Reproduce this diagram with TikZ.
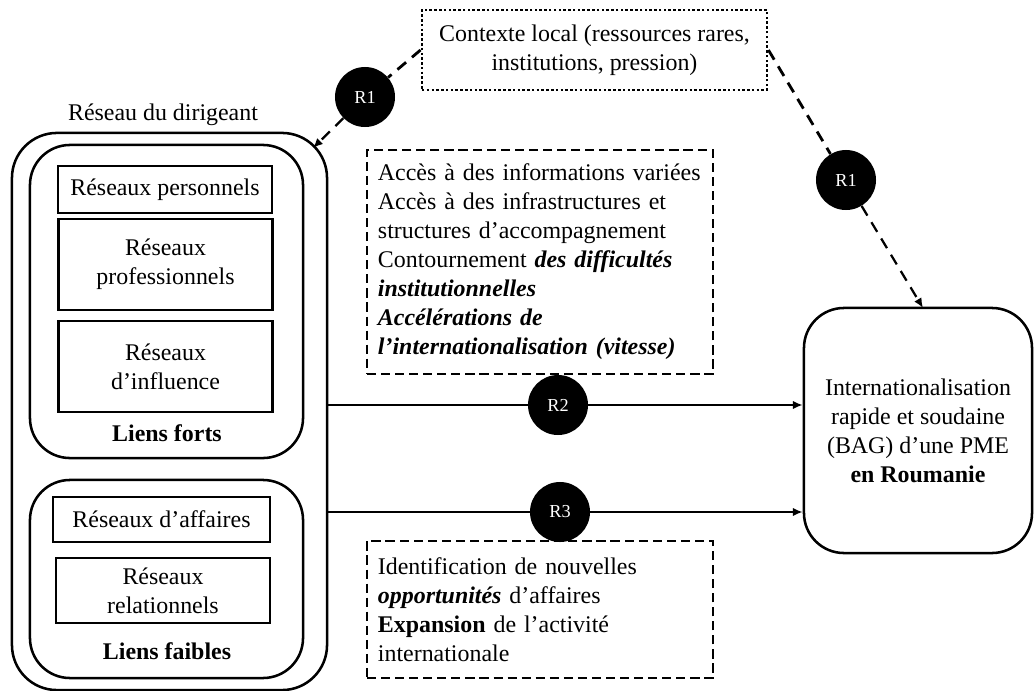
\documentclass[tikz,border=0pt]{standalone}
\usepackage{fontspec}
\setmainfont{Liberation Serif}
\usepackage{tikz}
\usetikzlibrary{calc}
\usetikzlibrary{arrows.meta}

\tikzset{
	txt/.style={font=\fontsize{17}{20.6}\selectfont},
	boite/.style={draw, line width=1.8pt, inner sep=2pt, align=center, txt},
	arrondi/.style={draw, line width=1.8pt, rounded corners=1cm},
	pointille/.style={draw, line width=2pt, dash pattern=on 1.8pt off 1.6pt, align=center, txt},
	tirets/.style={draw, line width=1.8pt, dash pattern=on 6.5pt off 3.5pt, align=left, txt, inner sep=0.27cm, text width=8.1cm, minimum width=8.65cm},
	rond/.style={circle, fill=black, text=white, minimum size=1.5cm, inner sep=0pt, font=\fontsize{13}{15}\selectfont},
	fleche/.style={line width=1.6pt, -{Latex[length=7pt,width=6pt]}},
	lien/.style={line width=2pt, dash pattern=on 8pt off 5.5pt},
}

\begin{document}
\begin{tikzpicture}[x=0.025cm, y=-0.025cm]
	\useasboundingbox (0,0) rectangle (1035,691);
	% reseau du dirigeant
	\node[txt] (titre) at (163,115) {Réseau du dirigeant};
	\node[arrondi, rounded corners=1.125cm, minimum width=7.875cm, minimum height=13.925cm] (dir) at (169.5,411.5) {};
	\node[arrondi, minimum width=6.825cm, minimum height=7.825cm] (forts) at (166.5,301.5) {};
	\node[arrondi, minimum width=6.825cm, minimum height=4.95cm] (faibles) at (166.5,579) {};
	\node[boite, minimum width=5.35cm, minimum height=1.175cm] (pers) at (165,189.5) {Réseaux personnels};
	\node[boite, minimum width=5.35cm, minimum height=2.275cm] (prof) at (165.5,264.5) {Réseaux\\professionnels};
	\node[boite, minimum width=5.35cm, minimum height=2.275cm] (infl) at (165.5,366.5) {Réseaux\\d’influence};
	\node[txt] (lf) at (167,433) {\textbf{Liens forts}};
	\node[boite, minimum width=5.42cm, minimum height=1.125cm] (aff) at (161.5,519.5) {Réseaux d’affaires};
	\node[boite, minimum width=5.35cm, minimum height=1.625cm] (rel) at (163,590.5) {Réseaux\\relationnels};
	\node[txt] (lfa) at (167,651) {\textbf{Liens faibles}};
	% contexte et effets
	\node[pointille, minimum width=8.625cm, minimum height=2cm] (ctx) at (594.5,50) {Contexte local (ressources rares,\\institutions, pression)};
	\node[tirets, minimum height=5.6cm] (acces) at (540,262) {Accès à des informations variées\\
		Accès à des infrastructures et\\
		structures d’accompagnement\\
		Contournement \textbf{\textit{des difficultés}}\\
		\textbf{\textit{institutionnelles}}\\
		\textbf{\textit{Accélérations de}}\\
		\textbf{\textit{l’internationalisation (vitesse)}}};
	\node[tirets, minimum height=3.425cm] (oppo) at (540,609.5) {Identification de nouvelles\\
		\textbf{\textit{opportunités}} d’affaires\\
		\textbf{Expansion} de l’activité\\
		internationale};
	\node[arrondi, txt, align=center, minimum width=5.7cm, minimum height=6.125cm] (bag) at (918,430.5) {Internationalisation\\rapide et soudaine\\(BAG) d’une PME\\\textbf{en Roumanie}};
	% relations
	\node[rond] (r1a) at (365,97) {R1};
	\node[rond] (r1b) at (846,180) {R1};
	\node[rond] (r2) at (558,405) {R2};
	\node[rond] (r3) at (560,512) {R3};
	\coordinate (dirc) at (313,148);
	\coordinate (bagc) at (923,308);
	\draw[lien] (ctx.west) -- (r1a);
	\draw[lien, fleche] (r1a) -- (dirc);
	\draw[lien] (ctx.east) -- (r1b);
	\draw[lien, fleche] (r1b) -- (bagc);
	\draw[line width=1.6pt] (dir.east |- r2) -- (r2);
	\draw[fleche] (r2) -- (bag.west |- r2);
	\draw[line width=1.6pt] (dir.east |- r3) -- (r3);
	\draw[fleche] (r3) -- (bag.west |- r3);
\end{tikzpicture}
\end{document}
